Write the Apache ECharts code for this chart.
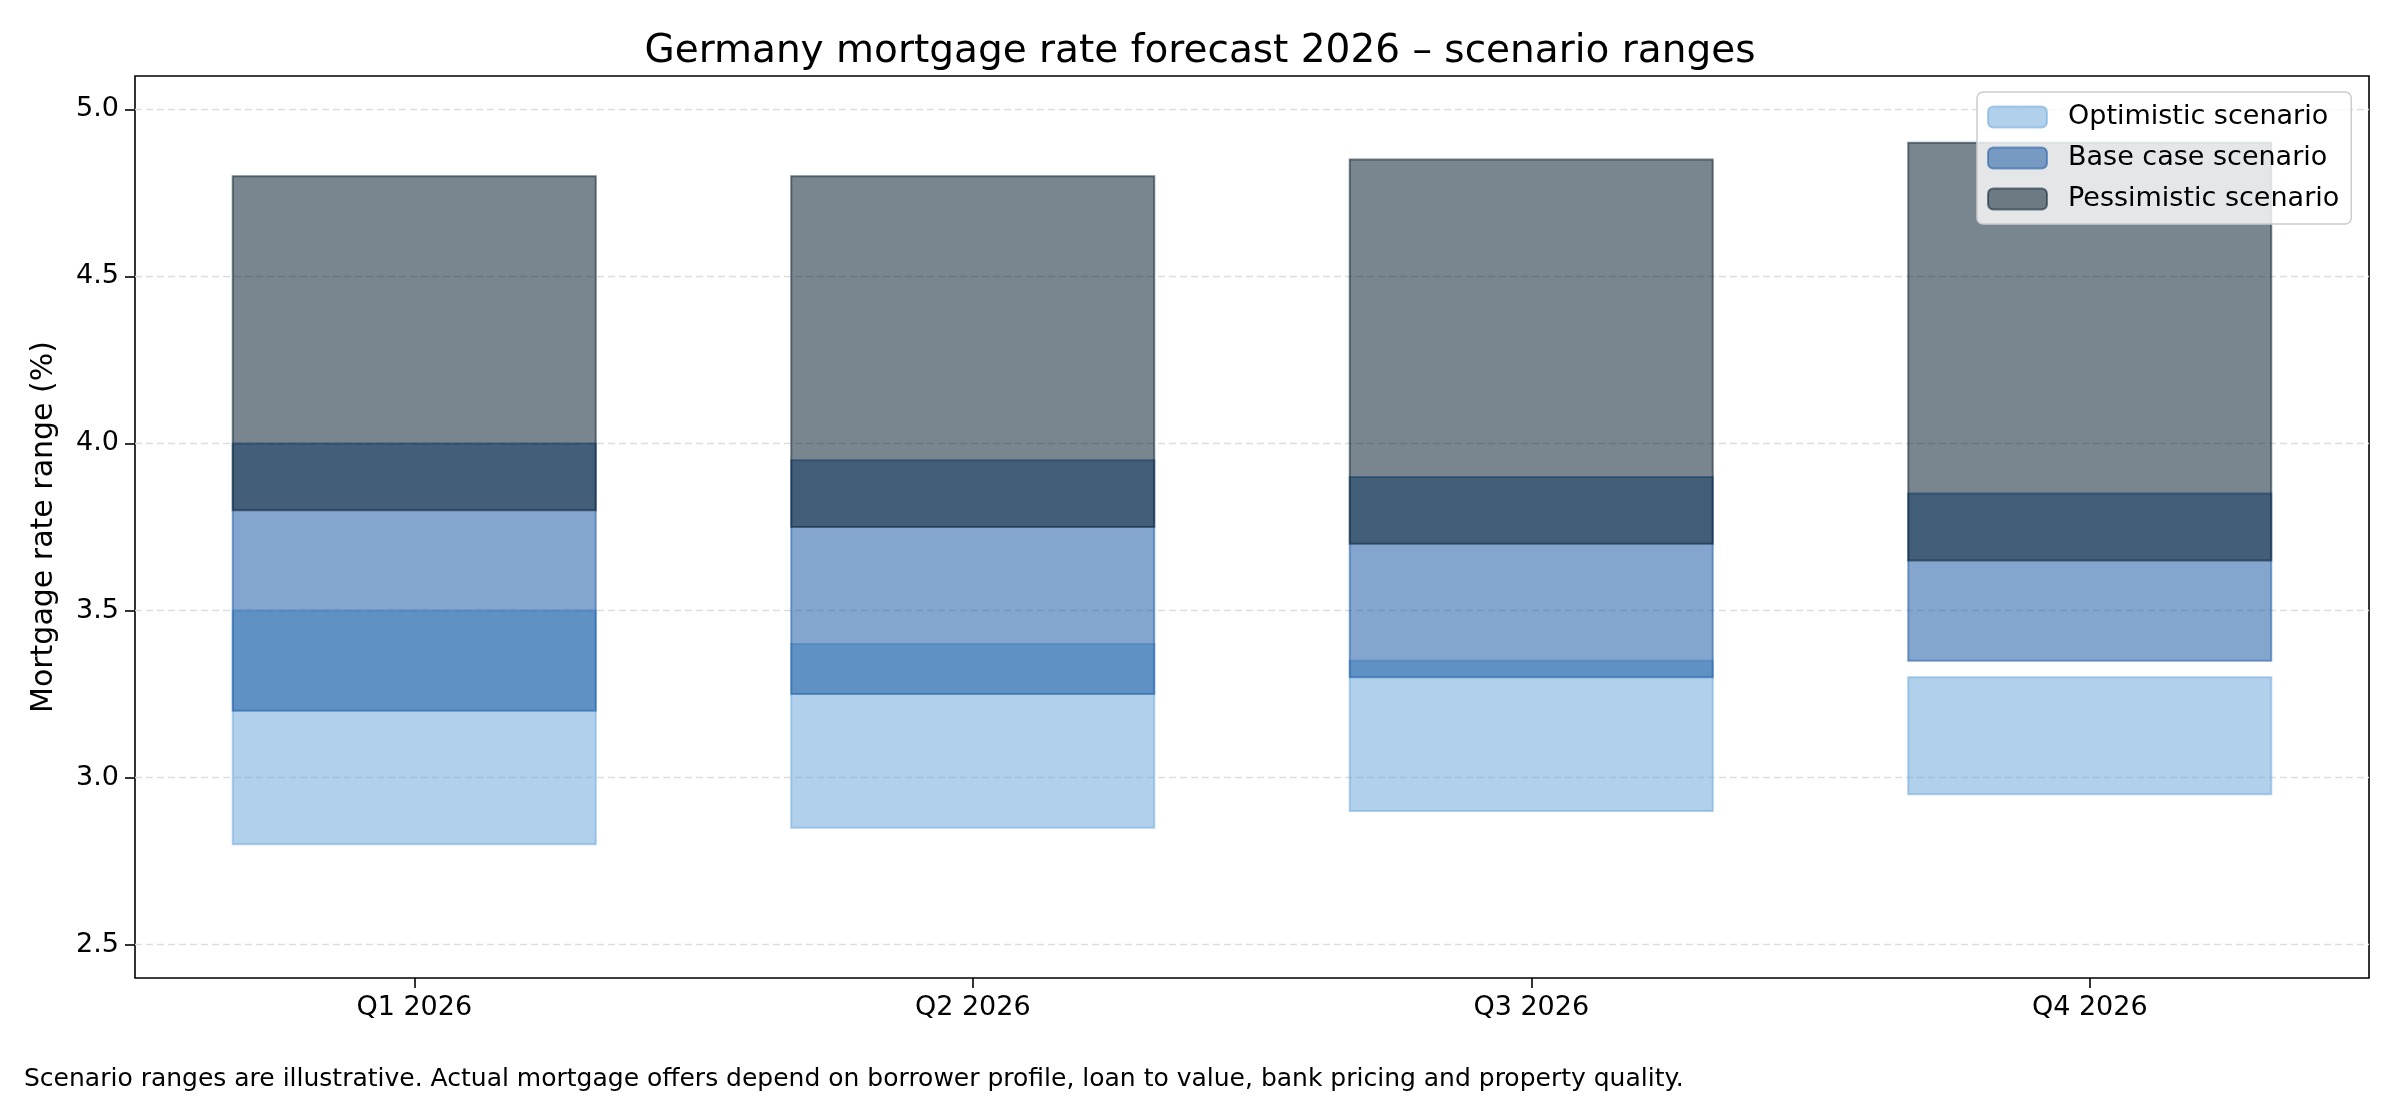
<!DOCTYPE html>
<html>
<head>
<meta charset="utf-8">
<script src="https://cdn.jsdelivr.net/npm/echarts@6.0.0/dist/echarts.min.js"></script>
<style>
  body { margin: 0; background: #fff; }
  #scenarioChart { width: 2400px; height: 1100px; }
</style>
</head>
<body>
<div id="scenarioChart"></div>
<script>
// 분기별 시나리오 범위 (low / high, %)
const quarters = ['Q1 2026', 'Q2 2026', 'Q3 2026', 'Q4 2026'];
const optimisticLow = [2.80, 2.85, 2.90, 2.95];
const optimisticHigh = [3.50, 3.40, 3.35, 3.30];
const baseLow = [3.20, 3.25, 3.30, 3.35];
const baseHigh = [4.00, 3.95, 3.90, 3.85];
const pessimisticLow = [3.80, 3.75, 3.70, 3.65];
const pessimisticHigh = [4.80, 4.80, 4.85, 4.90];
const yTicks = [2.5, 3.0, 3.5, 4.0, 4.5, 5.0];

const font = 'DejaVu Sans';

const rangeSeries = (name, lows, highs, fill, edge) => ({
    name: name,
    type: 'custom',
    clip: true,
    itemStyle: { color: fill, borderColor: edge, borderWidth: 2 },
    encode: { x: 0, y: [1, 2] },
    data: quarters.map((q, i) => [i, lows[i], highs[i]]),
    renderItem: function(params, api) {
        const top = api.coord([api.value(0), api.value(2)]);
        const bottom = api.coord([api.value(0), api.value(1)]);
        const w = api.size([1, 0])[0] * 0.65;
        return {
            type: 'rect',
            shape: { x: top[0] - w / 2, y: top[1], width: w, height: bottom[1] - top[1] },
            style: { fill: fill, stroke: edge, lineWidth: 2 }
        };
    }
});

const drawChart = () => {
    var chartDom = document.getElementById('scenarioChart');
    var myChart = echarts.init(chartDom, null, { renderer: 'canvas' });

    const optFill = 'rgba(111,170,219,0.55)';
    const baseFill = 'rgba(31,93,166,0.55)';
    const pessFill = 'rgba(13,35,51,0.55)';

    myChart.setOption({
        animation: false,
        textStyle: { fontFamily: font },
        title: {
            text: 'Germany mortgage rate forecast 2026 \u2013 scenario ranges',
            left: 'center',
            top: 27,
            textStyle: { fontFamily: font, fontSize: 39, fontWeight: 'normal', color: '#000' }
        },
        legend: {
            orient: 'vertical',
            left: 1977,
            top: 92,
            padding: [11, 12, 11, 10],
            itemWidth: 59,
            itemHeight: 21,
            itemGap: 13,
            backgroundColor: 'rgba(255,255,255,0.8)',
            borderColor: '#cccccc',
            borderWidth: 1.5,
            borderRadius: 6,
            textStyle: { fontFamily: font, fontSize: 27, color: '#000', lineHeight: 28, padding: [0, 0, 0, 16] },
            data: ['Optimistic scenario', 'Base case scenario', 'Pessimistic scenario']
        },
        grid: {
            left: 135, right: 31, top: 76, bottom: 122,
            show: true,
            borderColor: '#000',
            borderWidth: 1.6
        },
        xAxis: {
            type: 'category',
            data: quarters,
            axisLine: { show: false },
            axisTick: { show: true, alignWithLabel: true, length: 10, lineStyle: { color: '#000', width: 1.6 } },
            axisLabel: { fontFamily: font, fontSize: 27, color: '#000', margin: 16 },
            splitLine: { show: false }
        },
        yAxis: {
            type: 'value',
            min: 2.4,
            max: 5.1,
            name: 'Mortgage rate range (%)',
            nameLocation: 'middle',
            nameGap: 76,
            nameTextStyle: { fontFamily: font, fontSize: 30, color: '#000' },
            axisLine: { show: false },
            axisTick: { show: true, length: 10, customValues: yTicks, lineStyle: { color: '#000', width: 1.6 } },
            axisLabel: {
                fontFamily: font, fontSize: 27, color: '#000', margin: 16,
                customValues: yTicks,
                formatter: v => v.toFixed(1)
            },
            splitLine: { show: true, lineStyle: { color: '#dddddd', width: 1.4, type: [7, 4] } }
        },
        graphic: [{
            type: 'text',
            left: 24,
            top: 1067,
            style: {
                text: 'Scenario ranges are illustrative. Actual mortgage offers depend on borrower profile, loan to value, bank pricing and property quality.',
                font: '25px "DejaVu Sans"',
                fill: '#000'
            }
        }],
        series: [
            rangeSeries('Optimistic scenario', optimisticLow, optimisticHigh, optFill, 'rgba(111,170,219,0.55)'),
            rangeSeries('Base case scenario', baseLow, baseHigh, baseFill, 'rgba(31,93,166,0.55)'),
            rangeSeries('Pessimistic scenario', pessimisticLow, pessimisticHigh, pessFill, 'rgba(13,35,51,0.55)')
        ]
    });
};

drawChart();
</script>
</body>
</html>
